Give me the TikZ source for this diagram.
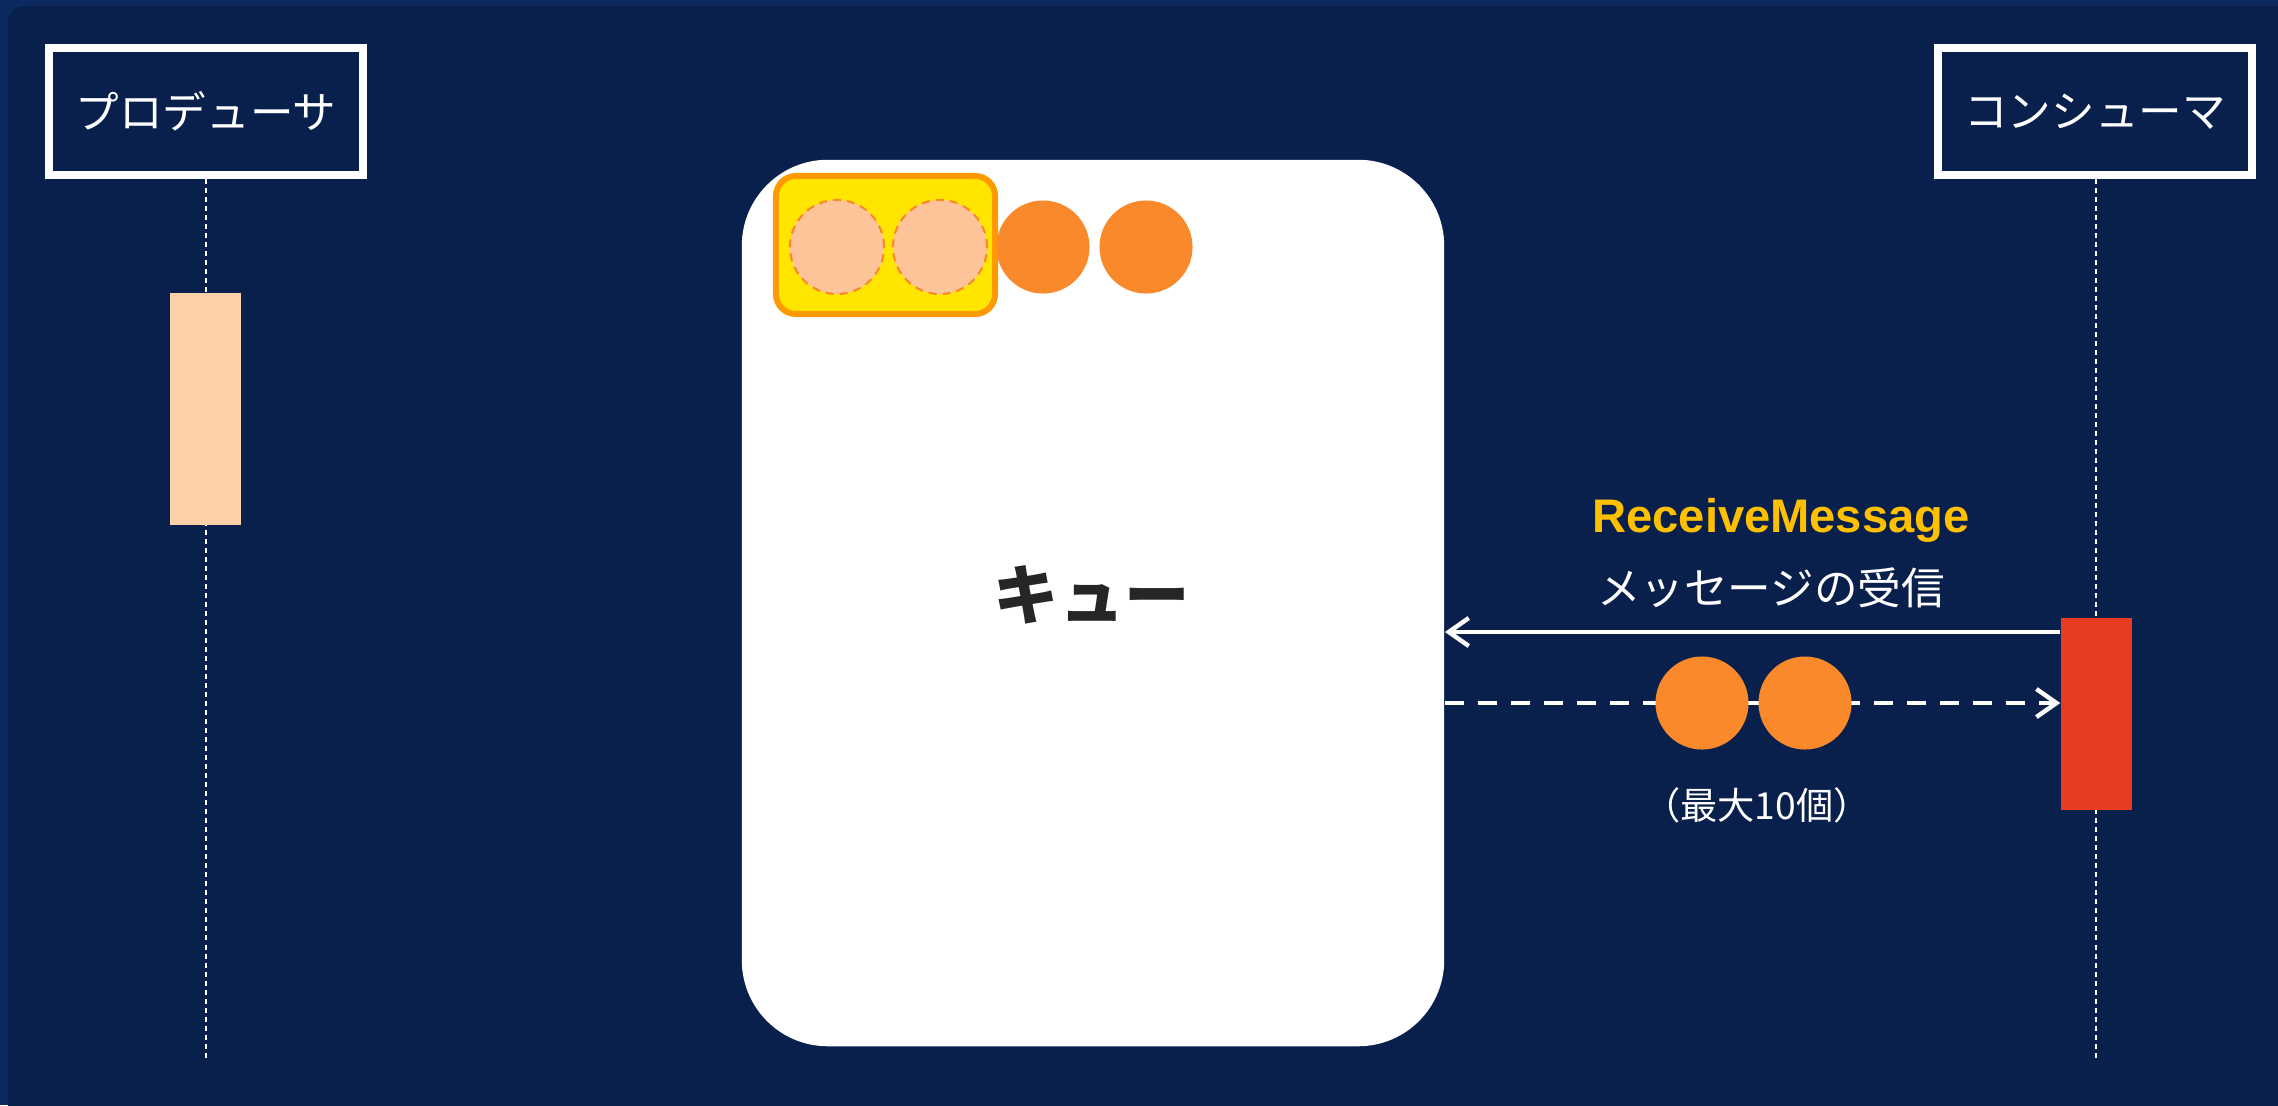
\documentclass[tikz,border=0pt]{standalone}
\usepackage{fontspec}
\setmainfont{Noto Sans CJK JP}
\newfontfamily\arialbold{Liberation Sans}[BoldFont=* Bold]
\usetikzlibrary{arrows.meta}

\definecolor{navy}{RGB}{9,32,77}
\definecolor{navyedge}{RGB}{12,42,96}
\definecolor{corange}{RGB}{249,137,42}
\definecolor{cpeach}{RGB}{253,196,154}
\definecolor{cyellow}{RGB}{255,229,0}
\definecolor{cyellowedge}{RGB}{255,153,0}
\definecolor{cprodbar}{RGB}{252,208,168}
\definecolor{cconsbar}{RGB}{230,60,32}
\definecolor{cgold}{RGB}{255,192,0}
\definecolor{cqtext}{RGB}{38,38,38}
\tikzset{seqpic/.style={x=0.01cm,y=-0.01cm,font=\fontsize{12.4pt}{14pt}\selectfont}}
\tikzset{actor/.style={draw=white,line width=2.3pt,text=white,minimum width=3.14cm,minimum height=1.27cm},
         lifeline/.style={white,line width=0.4pt,dash pattern=on 0.05cm off 0.04cm},
         actbar/.style={minimum width=0.71cm,inner sep=0pt}}
\tikzset{msg/.style={circle,fill=corange,minimum size=0.93cm,inner sep=0pt},
         pending/.style={circle,fill=cpeach,draw=corange,line width=0.6pt,dash pattern=on 0.08cm off 0.06cm,minimum size=0.94cm,inner sep=0pt},
         callarrow/.style={white,line width=1.25pt,-{Straight Barb[length=0.2cm,width=0.28cm,line width=1.25pt]}},
         dataarrow/.style={callarrow,dash pattern=on 0.19cm off 0.14cm}}

\begin{document}
\begin{tikzpicture}[seqpic]
    \useasboundingbox (0,0) rectangle (2278,1105);
    \fill[navyedge] (0,0) rectangle (2278,1105);
    \fill[navy,rounded corners=0.16cm] (8,6) rectangle (2300,1130);
    % actors and lifelines
    \node[actor] (prod) at (206,111.5) {プロデューサ};
    \node[actor] (cons) at (2095,111.5) {コンシューマ};
    \coordinate (prodend) at (206,1058);
    \coordinate (consend) at (2096,1058);
    \draw[lifeline] (prod.south) -- (prodend);
    \draw[lifeline] ([xshift=0.01cm]cons.south) -- (consend);
    \node[actbar,fill=cprodbar,minimum height=2.32cm] (pbar) at (205.5,409) {};
    \node[actbar,fill=cconsbar,minimum height=1.92cm] (cbar) at (2096.5,714) {};
    % queue
    \node[fill=white,rounded corners=0.86cm,minimum width=7.02cm,minimum height=8.86cm] (queue) at (1093,603) {};
    \node[text=cqtext,font=\fontsize{18.6pt}{20pt}\selectfont\bfseries] (qname) at (1092,595) {キュー};
    \node[fill=cyellow,draw=cyellowedge,line width=1.7pt,rounded corners=0.2cm,minimum width=2.19cm,minimum height=1.38cm] (batch) at (885.5,245) {};
    \foreach \i/\x in {1/837,2/940} \node[pending] (p\i) at (\x,247) {};
    \foreach \i/\x in {1/1043,2/1146} \node[msg] (q\i) at (\x,247) {};
    % receive message
    \coordinate (recv) at (0,632);
    \coordinate (data) at (0,703);
    \draw[callarrow] (cbar.west |- recv) -- (queue.east |- recv);
    \draw[dataarrow] (queue.east |- data) -- (cbar.west |- data);
    \foreach \i/\x in {1/1702,2/1805} \node[msg] (m\i) at (\x,703) {};
    \node[cgold,font=\arialbold\bfseries\fontsize{13.4pt}{15pt}\selectfont] (rmname) at (1781,520) {ReceiveMessage};
    \node[white] (rmtext) at (1771,588) {メッセージの受信};
    \node[white,font=\fontsize{10.6pt}{12pt}\selectfont] (rmnote) at (1757,805) {（最大10個）};
  \end{tikzpicture}
\end{document}
